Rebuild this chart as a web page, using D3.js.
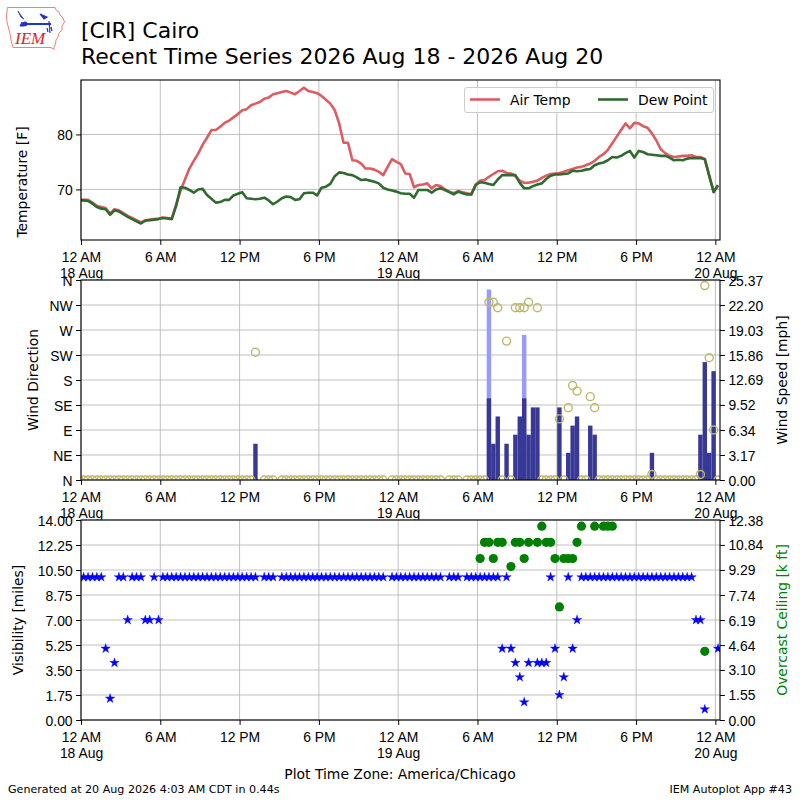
<!DOCTYPE html>
<html>
<head>
<meta charset="utf-8">
<script src="https://cdn.jsdelivr.net/npm/d3@7"></script>
<style>
  body { margin: 0; background: #fff; }
  svg { font-family: "DejaVu Sans", sans-serif; }
  .tick text { font-size: 13.9px; fill: #000; }
  .tick line { stroke: #000; stroke-width: 1; }
</style>
</head>
<body>
<svg width="800" height="800"></svg>
<script>
const _ = null;

// observations every 20 minutes, local (Chicago) clock times
const firstOb = new Date('2026-08-17T23:52:00Z');
const obStepMinutes = 20;
const xStart = new Date('2026-08-18T00:00:00Z');
const xEnd = new Date('2026-08-20T00:21:00Z');

const airTemp = [
  68.1, 68.1, 68.1, 67.6, 67.0, 66.8, 66.6, 65.6, 66.4, 66.2,
  65.7, 65.2, 64.8, 64.4, 64.0, 64.4, 64.5, 64.6, 64.7, 64.9,
  64.8, 64.7, 67.3, 69.8, 71.8, 73.8, 75.2, 76.5, 78.1, 79.4,
  80.8, 80.8, 81.4, 82.1, 82.5, 83.1, 83.7, 84.4, 84.6, 85.3,
  85.6, 85.9, 86.5, 86.7, 87.3, 87.5, 87.7, 87.9, 87.6, 87.3,
  87.9, 88.5, 87.9, 87.7, 87.5, 87.0, 86.3, 85.6, 84.4, 82.0,
  78.5, 78.5, 75.3, 75.2, 74.7, 73.8, 73.8, 73.6, 73.2, 72.6,
  74.1, 75.5, 75.0, 74.6, 72.9, 72.8, 70.4, 70.8, 70.9, 71.1,
  70.2, 70.8, 70.6, 70.0, 69.6, 69.3, 69.7, 69.5, 69.3, 69.1,
  70.9, 71.6, 71.7, 72.3, 72.8, 73.3, 73.4, 73.0, 72.9, 72.4,
  71.6, 71.2, 71.2, 71.4, 71.6, 72.1, 72.5, 72.8, 72.9, 73.0,
  73.2, 73.5, 73.7, 74.0, 74.1, 74.4, 74.7, 75.2, 75.9, 76.4,
  77.2, 78.4, 79.6, 80.8, 82.0, 81.1, 82.1, 82.0, 81.5, 81.2,
  80.2, 78.9, 77.3, 76.6, 76.1, 75.9, 76.0, 76.1, 76.1, 76.2,
  75.9, 75.9, 75.5, 72.5, 69.6, 70.8
];

const dewPoint = [
  68.0, 68.0, 67.9, 67.4, 66.8, 66.5, 66.4, 65.4, 66.2, 66.0,
  65.5, 65.0, 64.6, 64.2, 63.8, 64.3, 64.4, 64.5, 64.6, 64.8,
  64.7, 64.6, 67.0, 70.4, 70.3, 69.9, 69.4, 70.0, 70.1, 69.0,
  68.3, 67.6, 67.7, 68.1, 68.1, 68.9, 69.2, 69.5, 68.4, 68.3,
  68.2, 68.3, 68.5, 68.0, 67.3, 67.8, 68.4, 68.7, 68.6, 68.1,
  68.2, 69.3, 69.4, 69.4, 68.9, 70.3, 70.5, 71.0, 72.4, 73.1,
  73.0, 72.7, 72.6, 72.2, 71.7, 71.8, 71.6, 71.4, 71.1, 70.3,
  70.0, 69.8, 69.6, 69.3, 69.2, 69.2, 68.5, 69.9, 69.9, 69.9,
  69.4, 70.0, 70.2, 69.9, 69.5, 69.1, 69.6, 69.3, 69.1, 69.1,
  70.8, 71.3, 71.2, 71.0, 70.8, 71.8, 72.6, 72.6, 72.6, 72.6,
  71.2, 70.2, 70.2, 70.6, 70.9, 71.1, 71.9, 72.5, 72.7, 72.7,
  72.8, 72.9, 73.4, 73.3, 73.4, 73.6, 73.7, 74.4, 74.7, 74.9,
  75.3, 75.9, 75.8, 76.1, 76.6, 77.0, 75.8, 77.0, 76.8, 76.4,
  76.3, 76.2, 76.1, 76.1, 75.8, 75.3, 75.4, 75.3, 75.6, 75.7,
  75.7, 75.7, 75.5, 72.5, 69.5, 70.7
];

// wind direction [deg], speed and gust [mph]
const windDir = [
  0, 0, 0, 0, 0, 0, 0, 0, 0, 0,
  0, 0, 0, 0, 0, 0, 0, 0, 0, 0,
  0, 0, 0, 0, 0, 0, 0, 0, 0, 0,
  0, 0, 0, 0, 0, 0, 0, 0, 0, 0,
  230, _, 0, 0, 0, _, 0, 0, 0, 0,
  0, 0, 0, 0, 0, 0, 0, 0, 0, 0,
  0, 0, 0, 0, 0, 0, 0, 0, 0, 0,
  _, 0, 0, 0, 0, 0, 0, 0, 0, 0,
  0, 0, 0, _, 0, 0, 0, _, 0, 0,
  0, 0, 0, 320, 320, 310, 0, 250, 0, 310,
  310, 310, 320, _, 310, 0, 0, 0, 0, 110,
  0, 130, 170, 160, 0, 0, 150, 130, 0, 0,
  0, 0, 0, 0, 0, 0, 0, 0, 0, 0,
  10, 0, 0, 0, 0, 0, 0, 0, 0, 0,
  0, 10, 350, 220, 90, 0
];

const windSpeed = [
  0, 0, 0, 0, 0, 0, 0, 0, 0, 0,
  0, 0, 0, 0, 0, 0, 0, 0, 0, 0,
  0, 0, 0, 0, 0, 0, 0, 0, 0, 0,
  0, 0, 0, 0, 0, 0, 0, 0, 0, 0,
  4.6, _, 0, 0, 0, _, 0, 0, 0, 0,
  0, 0, 0, 0, 0, 0, 0, 0, 0, 0,
  0, 0, 0, 0, 0, 0, 0, 0, 0, 0,
  _, 0, 0, 0, 0, 0, 0, 0, 0, 0,
  0, 0, 0, _, 0, 0, 0, _, 0, 0,
  0, 0, 0, 10.36, 4.6, 8.06, 0, 4.6, 0, 5.75,
  8.06, 10.36, 5.75, 9.21, 9.21, 0, 0, 0, 0, 9.21,
  0, 3.45, 6.9, 8.06, 0, 0, 6.9, 5.75, 0, 0,
  0, 0, 0, 0, 0, 0, 0, 0, 0, 0,
  3.45, 0, 0, 0, 0, 0, 0, 0, 0, 0,
  0, 5.75, 14.96, 3.45, 13.81, 0
];

const windGust = [
  _, _, _, _, _, _, _, _, _, _,
  _, _, _, _, _, _, _, _, _, _,
  _, _, _, _, _, _, _, _, _, _,
  _, _, _, _, _, _, _, _, _, _,
  _, _, _, _, _, _, _, _, _, _,
  _, _, _, _, _, _, _, _, _, _,
  _, _, _, _, _, _, _, _, _, _,
  _, _, _, _, _, _, _, _, _, _,
  _, _, _, _, _, _, _, _, _, _,
  _, _, _, 24.17, _, _, _, _, _, _,
  _, 18.41, _, _, _, _, _, _, _, _,
  _, _, _, _, _, _, _, _, _, _,
  _, _, _, _, _, _, _, _, _, _,
  _, _, _, _, _, _, _, _, _, _,
  _, _, _, _, _, _
];

// visibility [miles] and overcast ceiling [k ft]
const visibility = [
  10, 10, 10, 10, 10, 10, 5, 1.5, 4, 10,
  10, 7, 10, 10, 10, 7, 7, 10, 7, 10,
  10, 10, 10, 10, 10, 10, 10, 10, 10, 10,
  10, 10, 10, 10, 10, 10, 10, 10, 10, 10,
  10, _, 10, 10, 10, _, 10, 10, 10, 10,
  10, 10, 10, 10, 10, 10, 10, 10, 10, 10,
  10, 10, 10, 10, 10, 10, 10, 10, 10, 10,
  _, 10, 10, 10, 10, 10, 10, 10, 10, 10,
  10, 10, 10, _, 10, 10, 10, _, 10, 10,
  10, 10, 10, 10, 10, 10, 5, 10, 5, 4,
  3, 1.25, 4, _, 4, 4, 4, 10, 5, 1.75,
  3, 10, 5, 7, 10, 10, 10, 10, 10, 10,
  10, 10, 10, 10, 10, 10, 10, 10, 10, 10,
  10, 10, 10, 10, 10, 10, 10, 10, 10, 10,
  7, 7, 0.75, _, _, 5
];

const ceiling = [
  _, _, _, _, _, _, _, _, _, _,
  _, _, _, _, _, _, _, _, _, _,
  _, _, _, _, _, _, _, _, _, _,
  _, _, _, _, _, _, _, _, _, _,
  _, _, _, _, _, _, _, _, _, _,
  _, _, _, _, _, _, _, _, _, _,
  _, _, _, _, _, _, _, _, _, _,
  _, _, _, _, _, _, _, _, _, _,
  _, _, _, _, _, _, _, _, _, _,
  _, 10, 11, 11, 10, 11, 11, _, 9.5, 11,
  11, 10, 11, _, 11, 12, 11, 11, 10, 7,
  10, 10, 10, 11, 12, _, _, 12, _, 12,
  12, 12, _, _, _, _, _, _, _, _,
  _, _, _, _, _, _, _, _, _, _,
  _, _, 4.25, _, _, _
];

// axis ticks
const tempTicks = [70, 80];
const dirTicks = [0, 45, 90, 135, 180, 225, 270, 315, 360];
const dirLabels = ['N', 'NE', 'E', 'SE', 'S', 'SW', 'W', 'NW', 'N'];
const speedTicks = [0, 3.17, 6.34, 9.52, 12.69, 15.86, 19.03, 22.20, 25.37];
const visTicks = [0, 1.75, 3.5, 5.25, 7, 8.75, 10.5, 12.25, 14];
const ceilTicks = [0, 1.55, 3.10, 4.64, 6.19, 7.74, 9.29, 10.84, 12.38];

const tempColor = '#dc5c61';
const dewColor = '#2f6a31';

const svg = d3.select('svg');
const left = 81, right = 720;
const times = airTemp.map((d, i) => d3.utcMinute.offset(firstOb, i * obStepMinutes));
const x = d3.scaleUtc().domain([xStart, xEnd]).range([left, right]);
const xTicks = d3.utcHour.every(6).range(xStart, xEnd);
const hourFmt = d3.utcFormat('%-I %p');
const dayFmt = d3.utcFormat('%d %b');

// white axes patch, grid and clipped plot area
function panel(id, top, bottom, yGrid) {
  const g = svg.append('g');
  g.append('rect').attr('x', left).attr('y', top)
    .attr('width', right - left).attr('height', bottom - top).attr('fill', '#fff');
  svg.append('clipPath').attr('id', id).append('rect')
    .attr('x', left).attr('y', top).attr('width', right - left).attr('height', bottom - top);
  g.selectAll('.vg').data(xTicks).join('line')
    .attr('x1', d => x(d)).attr('x2', d => x(d)).attr('y1', top).attr('y2', bottom)
    .attr('stroke', '#b0b0b0').attr('stroke-width', 0.8);
  g.selectAll('.hg').data(yGrid).join('line')
    .attr('x1', left).attr('x2', right).attr('y1', d => d).attr('y2', d => d)
    .attr('stroke', '#b0b0b0').attr('stroke-width', 0.8);
  const plot = g.append('g').attr('clip-path', `url(#${id})`);
  return { g, plot };
}

function finish(g, top, bottom) {
  g.append('rect').attr('x', left).attr('y', top)
    .attr('width', right - left).attr('height', bottom - top)
    .attr('fill', 'none').attr('stroke', '#000').attr('stroke-width', 1.1);
  const ax = g.append('g').attr('transform', `translate(0,${bottom})`)
    .call(d3.axisBottom(x).tickValues(xTicks).tickSize(4.9).tickFormat(() => ''));
  ax.select('.domain').remove();
  ax.selectAll('.tick').each(function (d) {
    const t = d3.select(this).select('text').attr('y', null).attr('dy', null);
    t.append('tspan').attr('x', 0).attr('y', 21.7).text(hourFmt(d));
    if (d.getUTCHours() === 0) t.append('tspan').attr('x', 0).attr('y', 38).text(dayFmt(d));
  });
}

function yAxisLeft(g, y, ticks, fmt) {
  const a = g.append('g').attr('transform', `translate(${left},0)`)
    .call(d3.axisLeft(y).tickValues(ticks).tickFormat(fmt).tickSize(4.9).tickPadding(3.5));
  a.select('.domain').remove();
  a.selectAll('text').attr('dy', '0.36em');
}

function yAxisRight(g, y, ticks, fmt) {
  const a = g.append('g').attr('transform', `translate(${right},0)`)
    .call(d3.axisRight(y).tickValues(ticks).tickFormat(fmt).tickSize(4.9).tickPadding(3.5));
  a.select('.domain').remove();
  a.selectAll('text').attr('dy', '0.36em');
}

function vLabel(text, cx, cy, color) {
  svg.append('text').attr('transform', `translate(${cx},${cy}) rotate(-90)`)
    .attr('text-anchor', 'middle').attr('dy', '0.35em')
    .attr('font-size', 13.9).attr('fill', color || '#000').text(text);
}

// ---- panel 1: temperature
const yT = d3.scaleLinear().domain([60.8, 89.9]).range([240, 80]);
const p1 = panel('c1', 80, 240, tempTicks.map(yT));
const tLine = vals => d3.line()
  .defined(d => d != null)
  .x((d, i) => x(times[i]))
  .y(d => yT(d))(vals);
p1.plot.append('path').attr('d', tLine(airTemp)).attr('fill', 'none')
  .attr('stroke', tempColor).attr('stroke-width', 2.6).attr('stroke-linejoin', 'round');
p1.plot.append('path').attr('d', tLine(dewPoint)).attr('fill', 'none')
  .attr('stroke', dewColor).attr('stroke-width', 2.6).attr('stroke-linejoin', 'round');
finish(p1.g, 80, 240);
yAxisLeft(p1.g, yT, tempTicks, d3.format('d'));

// legend
const legendItems = [
  { name: 'Air Temp', color: tempColor, x: 470 },
  { name: 'Dew Point', color: dewColor, x: 598 }
];
const lg = p1.g.append('g');
lg.append('rect').attr('x', 464.5).attr('y', 87.5).attr('width', 249).attr('height', 25)
  .attr('rx', 2.5).attr('fill', '#fff').attr('fill-opacity', 0.8).attr('stroke', '#cccccc');
legendItems.forEach(it => {
  lg.append('line').attr('x1', it.x).attr('x2', it.x + 30).attr('y1', 99.5).attr('y2', 99.5)
    .attr('stroke', it.color).attr('stroke-width', 2.6);
  lg.append('text').attr('x', it.x + 40).attr('y', 104.5).attr('font-size', 13.9).text(it.name);
});

// ---- panel 2: wind
const yD = d3.scaleLinear().domain([0, 360]).range([480, 280]);
const yS = d3.scaleLinear().domain([0, 25.3746]).range([480, 280]);
const p2 = panel('c2', 280, 480, dirTicks.map(yD));
const barHalf = 10;
const barX = i => x(d3.utcMinute.offset(times[i], -barHalf));
const barW = i => x(d3.utcMinute.offset(times[i], barHalf)) - barX(i);
const idx = d3.range(times.length);
p2.plot.selectAll('.gust').data(idx.filter(i => windGust[i] != null)).join('rect')
  .attr('x', barX).attr('width', barW)
  .attr('y', i => yS(windGust[i])).attr('height', i => yS(0) - yS(windGust[i]))
  .attr('fill', '#9999ff');
p2.plot.selectAll('.speed').data(idx.filter(i => windSpeed[i])).join('rect')
  .attr('x', barX).attr('width', barW)
  .attr('y', i => yS(windSpeed[i])).attr('height', i => yS(0) - yS(windSpeed[i]))
  .attr('fill', '#383896');
p2.plot.selectAll('.dir').data(idx.filter(i => windDir[i] != null)).join('circle')
  .attr('cx', i => x(times[i])).attr('cy', i => yD(windDir[i])).attr('r', 4)
  .attr('fill', 'none').attr('stroke', '#bdb76b').attr('stroke-width', 1.4);
finish(p2.g, 280, 480);
yAxisLeft(p2.g, yD, dirTicks, (d, i) => dirLabels[i]);
yAxisRight(p2.g, yS, speedTicks, d3.format('.2f'));

// ---- panel 3: visibility and ceiling
const yV = d3.scaleLinear().domain([0, 14]).range([720, 520]);
const yC = d3.scaleLinear().domain([0, 12.384]).range([720, 520]);
const p3 = panel('c3', 520, 720, visTicks.map(yV));
const star = d3.symbol(d3.symbolStar, 27);
p3.plot.selectAll('.vis').data(idx.filter(i => visibility[i] != null)).join('path')
  .attr('d', star)
  .attr('transform', i => `translate(${x(times[i])},${yV(visibility[i])})`)
  .attr('fill', '#0000ff').attr('stroke', '#0000ff').attr('stroke-width', 0.4);
p3.plot.selectAll('.ceil').data(idx.filter(i => ceiling[i] != null)).join('circle')
  .attr('cx', i => x(times[i])).attr('cy', i => yC(ceiling[i])).attr('r', 4.6)
  .attr('fill', '#008000');
finish(p3.g, 520, 720);
yAxisLeft(p3.g, yV, visTicks, d3.format('.2f'));
yAxisRight(p3.g, yC, ceilTicks, d3.format('.2f'));

// ---- labels
vLabel('Temperature [F]', 22.5, 182);
vLabel('Wind Direction', 33, 380);
vLabel('Visibility [miles]', 18, 620);
vLabel('Wind Speed [mph]', 782, 380);
vLabel('Overcast Ceiling [k ft]', 782, 620, '#008000');

svg.append('text').attr('x', 81).attr('y', 37.5).attr('font-size', 22).text('[CIR] Cairo');
svg.append('text').attr('x', 81).attr('y', 64).attr('font-size', 22)
  .text('Recent Time Series 2026 Aug 18 - 2026 Aug 20');
svg.append('text').attr('x', 400).attr('y', 779).attr('text-anchor', 'middle')
  .attr('font-size', 13.9).text('Plot Time Zone: America/Chicago');
svg.append('text').attr('x', 8).attr('y', 792.5).attr('font-size', 11.1)
  .text('Generated at 20 Aug 2026 4:03 AM CDT in 0.44s');
svg.append('text').attr('x', 792).attr('y', 792.5).attr('text-anchor', 'end')
  .attr('font-size', 11.1).text('IEM Autoplot App #43');

// ---- IEM logo
const logo = svg.append('g');
logo.append('path')
  .attr('d', 'M7.5,7.5 L55,7.5 L56,10 L59,12 L60,15 L63,18 L64.5,22 L62,26 L62,30 L59,33 L58,37 L56,40 L55.5,44 L54,47 L54,49.5 L51,47.5 L13,47.5 L12,44 L11,40 L10,34 L8.5,28 L7,22 L6.5,16 L7,11 Z')
  .attr('fill', '#fff').attr('stroke', '#f08080').attr('stroke-width', 1);
logo.append('line').attr('x1', 25).attr('x2', 51).attr('y1', 24).attr('y2', 24)
  .attr('stroke', '#2233cc').attr('stroke-width', 2);
logo.append('circle').attr('cx', 25).attr('cy', 24).attr('r', 2.4).attr('fill', '#2233cc');
logo.append('path').attr('d', 'M18,11 L21,17 L24,19 M20,26 L22,22 L24,26 Z')
  .attr('fill', '#2233cc').attr('stroke', '#2233cc').attr('stroke-width', 1);
logo.append('path').attr('d', 'M40,14 L47,17 L44,19 Z M49,21 L50,33 M47,28 L48,32 M51,27 L52,31')
  .attr('fill', '#2233cc').attr('stroke', '#2233cc').attr('stroke-width', 1.2);
logo.append('text').attr('x', 15).attr('y', 44).attr('font-family', '"Liberation Serif", serif')
  .attr('font-style', 'italic').attr('font-size', 17).attr('fill', '#dd2222').text('IEM');
</script>
</body>
</html>
